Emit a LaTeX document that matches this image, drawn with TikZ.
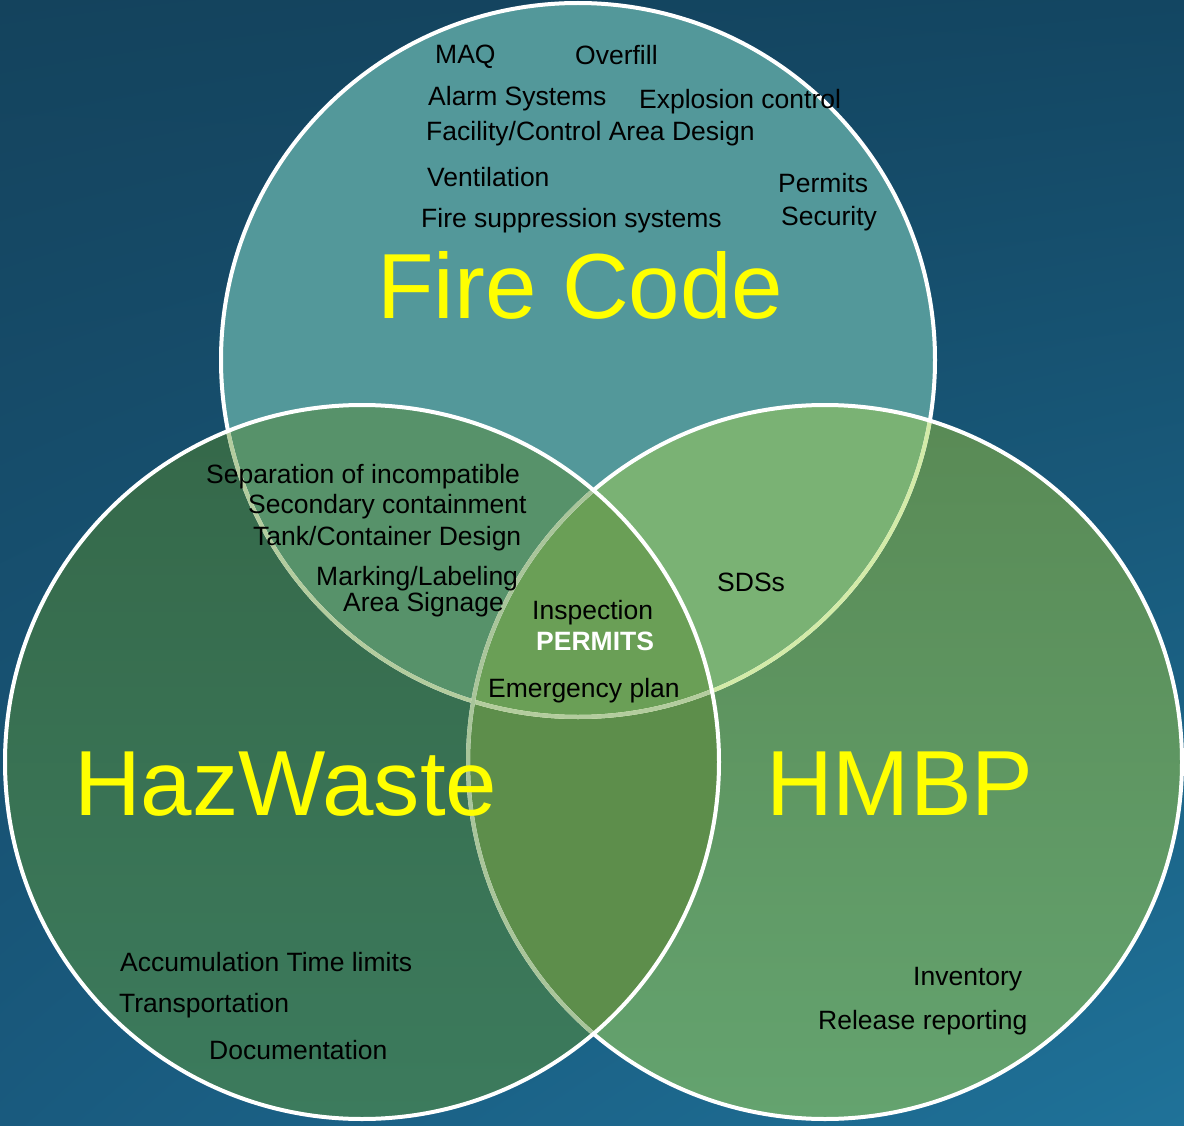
\documentclass[tikz,border=0pt]{standalone}
\usepackage{fontspec}
\setmainfont{Liberation Sans}
\usetikzlibrary{shadings}
\definecolor{bgTL}{HTML}{14435D}
\definecolor{bgTR}{HTML}{134662}
\definecolor{bgBL}{HTML}{195A7E}
\definecolor{bgBR}{HTML}{1F7299}
\definecolor{fcC}{HTML}{53989A}
\definecolor{hwTop}{HTML}{356849}
\definecolor{hwBot}{HTML}{3C7B5D}
\definecolor{hmTop}{HTML}{598A55}
\definecolor{hmBot}{HTML}{64A36F}
\definecolor{fchwC}{HTML}{57926A}
\definecolor{fchmC}{HTML}{7AB274}
\definecolor{hwhmC}{HTML}{5D8E4B}
\definecolor{ctrC}{HTML}{6A9F56}
\definecolor{paleInHW}{HTML}{B3CC9E}
\definecolor{paleInHM}{HTML}{D3EBA8}
\definecolor{paleHMinHW}{HTML}{A9C59A}
\definecolor{labelYellow}{HTML}{FFFF00}
\begin{document}
\begin{tikzpicture}[x=1pt,y=-1pt,
  lbl/.style={anchor=base west, inner sep=0pt, font=\fontsize{26.5}{30}\selectfont, text=black},
  biglbl/.style={anchor=base west, inner sep=0pt, font=\fontsize{92.5}{100}\selectfont, text=labelYellow},
  outline/.style={line width=4pt}]
\useasboundingbox (0,0) rectangle (1184,1126);
\shade[upper left=bgTL, upper right=bgTR, lower left=bgBL, lower right=bgBR] (0,0) rectangle (1184,1126);
\coordinate (fc) at (578,360);
\coordinate (hw) at (362,762);
\coordinate (hm) at (825,762);
% region fills
\fill[fcC] (fc) circle[radius=357pt];
\shade[top color=hmTop, bottom color=hmBot] (hm) circle[radius=357pt];
\shade[top color=hwTop, bottom color=hwBot] (hw) circle[radius=357pt];
\begin{scope}
  \clip (fc) circle[radius=357pt];
  \fill[fchmC] (hm) circle[radius=357pt];
  \fill[fchwC] (hw) circle[radius=357pt];
\end{scope}
\begin{scope}
  \clip (hw) circle[radius=357pt];
  \fill[hwhmC] (hm) circle[radius=357pt];
\end{scope}
\begin{scope}
  \clip (fc) circle[radius=357pt];
  \clip (hw) circle[radius=357pt];
  \fill[ctrC] (hm) circle[radius=357pt];
\end{scope}
% outlines
\draw[outline, white] (fc) circle[radius=357pt];
\begin{scope}
  \clip (hm) circle[radius=357pt];
  \draw[outline, paleInHM] (fc) circle[radius=357pt];
\end{scope}
\begin{scope}
  \clip (hw) circle[radius=357pt];
  \draw[outline, paleInHW] (fc) circle[radius=357pt];
\end{scope}
\draw[outline, white] (hm) circle[radius=357pt];
\begin{scope}
  \clip (hw) circle[radius=357pt];
  \draw[outline, paleHMinHW] (hm) circle[radius=357pt];
\end{scope}
\draw[outline, white] (hw) circle[radius=357pt];
% big labels
\node[biglbl] (firecode) at (377,318) {Fire Code};
\node[biglbl] (hazwaste) at (74,815) {HazWaste};
\node[biglbl] (hmbp) at (766,815) {HMBP};
% Fire Code items
\node[lbl] (maq) at (435,64) {MAQ};
\node[lbl] (overfill) at (575,65) {Overfill};
\node[lbl] (alarm) at (428,106) {Alarm Systems};
\node[lbl] (explosion) at (639,109) {Explosion control};
\node[lbl] (facility) at (426,141) {Facility/Control Area Design};
\node[lbl] (ventilation) at (427,187) {Ventilation};
\node[lbl] (firesup) at (421,228) {Fire suppression systems};
\node[lbl] (permitsfc) at (778,193) {Permits};
\node[lbl] (security) at (781,226) {Security};
% Fire Code / HazWaste
\node[lbl] (separation) at (206,483) {Separation of incompatible};
\node[lbl] (secondary) at (248,513) {Secondary containment};
\node[lbl] (tank) at (253,545) {Tank/Container Design};
\node[lbl] (marking) at (316,585) {Marking/Labeling};
\node[lbl] (signage) at (343,611) {Area Signage};
% centre
\node[lbl] (inspection) at (532,619) {Inspection};
\node[lbl, text=white, font=\fontsize{26.5}{30}\selectfont\bfseries] (permits) at (536,650) {PERMITS};
\node[lbl] (emergency) at (488,697) {Emergency plan};
% Fire Code / HMBP
\node[lbl] (sds) at (717,591) {SDSs};
% HazWaste
\node[lbl] (accum) at (120,971) {Accumulation Time limits};
\node[lbl] (transport) at (119,1012) {Transportation};
\node[lbl] (docs) at (209,1059) {Documentation};
% HMBP
\node[lbl] (inventory) at (913,985) {Inventory};
\node[lbl] (release) at (818,1029) {Release reporting};
\end{tikzpicture}
\end{document}
